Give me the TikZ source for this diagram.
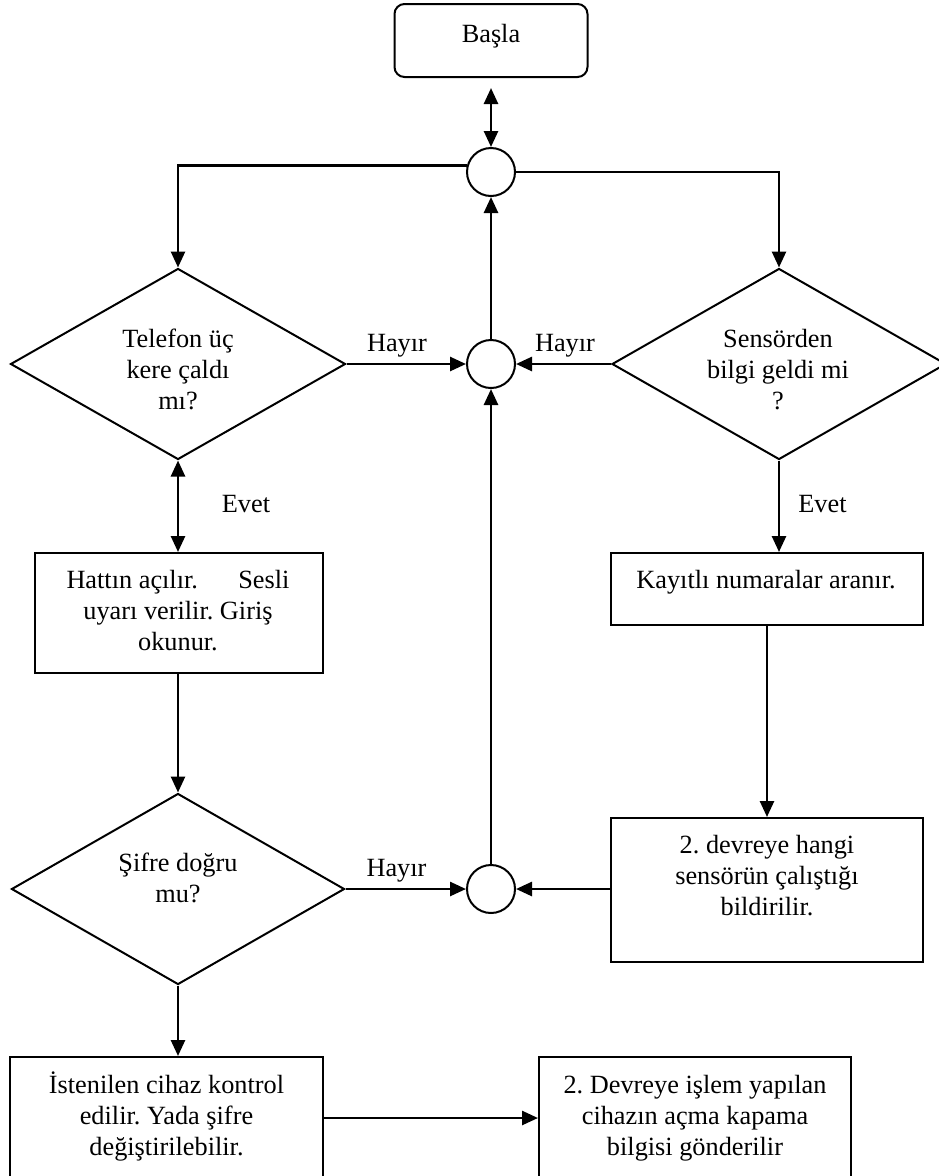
\documentclass[tikz,border=0pt]{standalone}
\usepackage{fontspec}
\setmainfont{Liberation Serif}
\usetikzlibrary{arrows.meta,shapes.geometric}
\newcommand{\mlines}[1]{\begin{tabular}[t]{@{}c@{}}#1\end{tabular}}
\frenchspacing
\begin{document}
\begin{tikzpicture}[x=1pt,y=-1pt,
  font=\fontsize{26.3}{31}\selectfont,
  shapeline/.style={draw, line width=2pt},
  procbox/.style={shapeline, rectangle, inner sep=0pt},
  decbox/.style={shapeline, diamond, inner sep=0pt},
  joint/.style={shapeline, circle, minimum size=48pt, inner sep=0pt},
  txt/.style={anchor=base, inner sep=0pt},
  conn/.style={line width=2.6pt, -{Triangle[length=16pt,width=14pt]}},
  conn2/.style={line width=2.6pt, {Triangle[length=16pt,width=14pt]}-{Triangle[length=16pt,width=14pt]}},
  ]
\useasboundingbox (0,0) rectangle (939,1176);
\fill[white] (0,0) rectangle (939,1176);

% shapes
\node[procbox, rounded corners=10pt, minimum width=193pt, minimum height=73pt] (start) at (491,40.5) {};
\node[joint] (c1) at (491,172) {};
\node[joint] (c2) at (491,364) {};
\node[joint] (c3) at (491,889) {};
\node[decbox, minimum width=335pt, minimum height=191pt] (d1) at (178,364) {};
\node[decbox, minimum width=334pt, minimum height=191pt] (d2) at (779,364) {};
\node[decbox, minimum width=333pt, minimum height=191pt] (d3) at (178,889) {};
\node[procbox, minimum width=288pt, minimum height=120pt] (b1) at (179,613) {};
\node[procbox, minimum width=312pt, minimum height=72pt] (b2) at (767,589) {};
\node[procbox, minimum width=312pt, minimum height=144pt] (b5) at (767,890) {};
\node[procbox, minimum width=313pt, minimum height=122pt] (b3) at (166.5,1118) {};
\node[procbox, minimum width=312pt, minimum height=122pt] (b4) at (695,1118) {};

% texts
\node[txt] (startt) at (491,42) {Başla};
\node[txt] (d1t) at (178,347) {\mlines{Telefon üç\\kere çaldı\\mı?}};
\node[txt] (d2t) at (778,347) {\mlines{Sensörden\\bilgi geldi mi\\?}};
\node[txt] (b1t) at (178,588) {\mlines{\makebox[223pt]{Hattın açılır.\hfill Sesli}\\uyarı verilir. Giriş\\okunur.}};
\node[txt] (b2t) at (766,588) {Kayıtlı numaralar aranır.};
\node[txt] (d3t) at (178,871) {\mlines{Şifre doğru\\mu?}};
\node[txt] (b5t) at (767,853) {\mlines{2. devreye hangi\\sensörün çalıştığı\\bildirilir.}};
\node[txt] (b3t) at (166.5,1093) {\mlines{İstenilen cihaz kontrol\\edilir. Yada şifre\\değiştirilebilir.}};
\node[txt] (b4t) at (695,1093) {\mlines{2. Devreye işlem yapılan\\cihazın açma kapama\\bilgisi gönderilir}};

% labels
\node[txt] (h1) at (397,351.7) {Hayır};
\node[txt] (h2) at (565,351.7) {Hayır};
\node[txt] (h3) at (396.5,876.7) {Hayır};
\node[txt] (e1) at (246,512) {Evet};
\node[txt] (e2) at (822.5,512.5) {Evet};

% connectors
\draw[conn2, shorten <=10pt] (start.south) -- (c1.north);
\draw[conn] (c1.165) -| (d1.north);
\draw[conn] (c1.east) -| (d2.north);
\draw[conn] (d1.east) -- (c2.west);
\draw[conn] (d2.west) -- (c2.east);
\draw[conn] (c2.north) -- (c1.south);
\draw[conn] (c3.north) -- (c2.south);
\draw[conn2] (d1.south) -- (d1.south |- b1.north);
\draw[conn] (b1.south -| d3.north) -- (d3.north);
\draw[conn] (d3.east) -- (c3.west);
\draw[conn] (d3.south) -- (d3.south |- b3.north);
\draw[conn] (b3.east) -- (b4.west);
\draw[conn] (d2.south) -- (d2.south |- b2.north);
\draw[conn] (b2.south) -- (b5.north);
\draw[conn] (b5.west |- c3.east) -- (c3.east);
\end{tikzpicture}
\end{document}
